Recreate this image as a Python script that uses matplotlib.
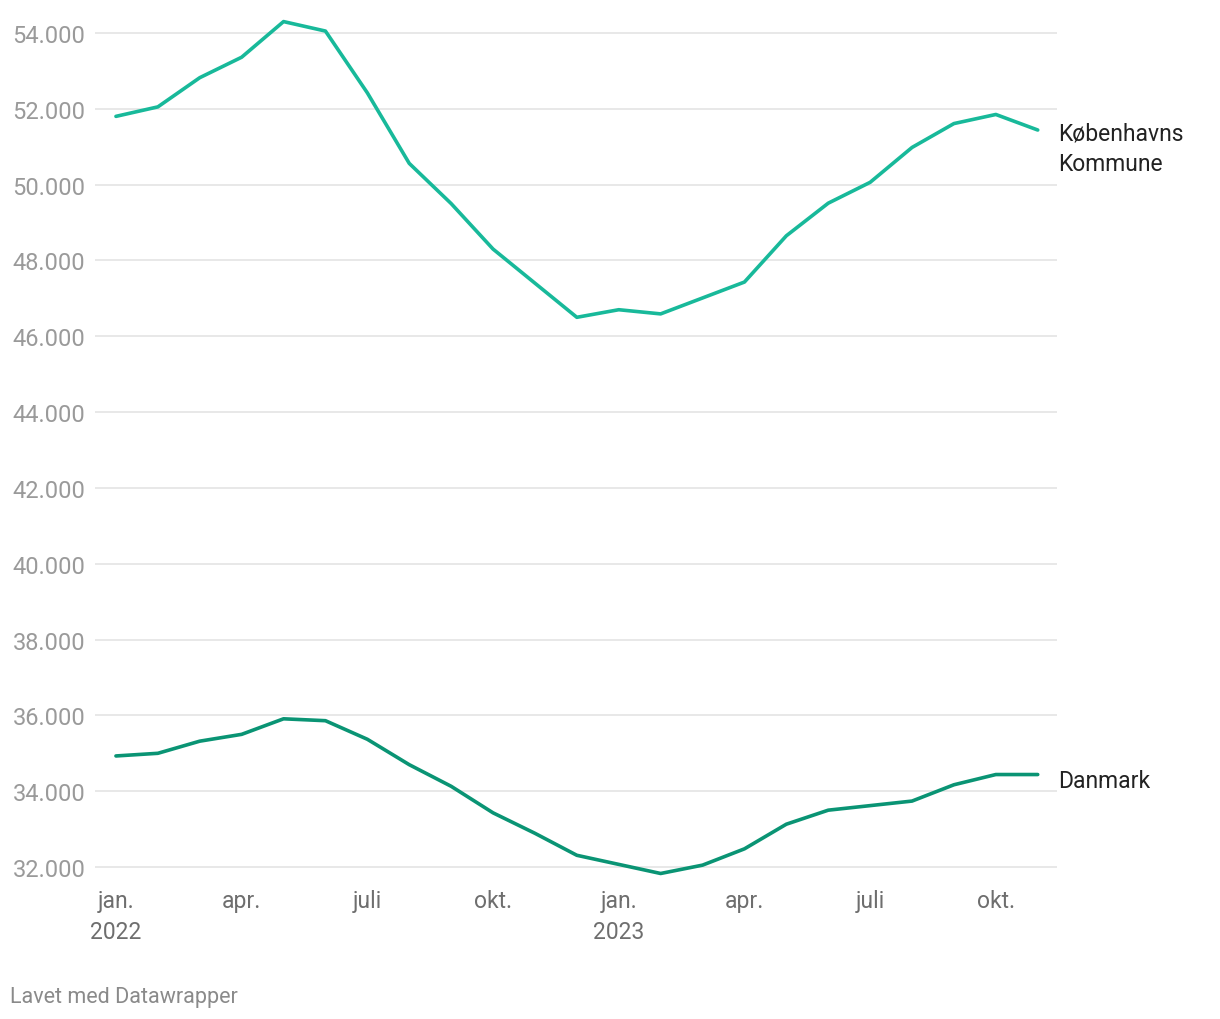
import numpy as np
import matplotlib.pyplot as plt

plt.rcParams['font.family'] = ['Roboto', 'DejaVu Sans']

# monthly values, jan. 2022 - nov. 2023
months = np.arange(23)
kbh = [51800, 52050, 52820, 53360, 54300, 54050, 52420, 50560, 49500, 48300,
       47400, 46500, 46700, 46590, 47010, 47430, 48650, 49510, 50060, 50980,
       51610, 51850, 51440]
danmark = [34930, 35000, 35320, 35500, 35910, 35860, 35370, 34700, 34130, 33430,
           32890, 32310, 32070, 31830, 32050, 32480, 33130, 33500, 33620, 33740,
           34170, 34440, 34440]

tick_pos = [0, 3, 6, 9, 12, 15, 18, 21]
tick_labels = ['jan.\n2022', 'apr.', 'juli', 'okt.', 'jan.\n2023', 'apr.', 'juli', 'okt.']
y_ticks = np.arange(32000, 54001, 2000)

fig = plt.figure(figsize=(12.2, 10.2), dpi=100)
ax = fig.add_axes([95/1220, 133/1020, 962/1220, 872/1020])

# grid lines
for y in y_ticks:
    ax.axhline(y, color='#e1e1e1', lw=1.1, zorder=1)

ax.plot(months, kbh, color='#18b99a', lw=2.6, solid_joinstyle='round',
        solid_capstyle='round', zorder=3)
ax.plot(months, danmark, color='#0a9474', lw=2.6, solid_joinstyle='round',
        solid_capstyle='round', zorder=3)

ax.set_xlim(-0.5, 22.46)
ax.set_ylim(31500, 54500)

ax.set_yticks(y_ticks)
ax.set_yticklabels([f'{v:,}'.replace(',', '.') for v in y_ticks])
ax.set_xticks(tick_pos)
ax.set_xticklabels(tick_labels, linespacing=1.45)
ax.tick_params(axis='y', length=0, pad=7, labelsize=17, labelcolor='#9a9a9a')
ax.tick_params(axis='x', length=0, pad=2, labelsize=16.5, labelcolor='#6e6e6e')

for s in ax.spines.values():
    s.set_visible(False)

# line labels
ax.annotate('Københavns\nKommune', xy=(months[-1], kbh[-1]), xytext=(15, -13),
            textcoords='offset points', fontsize=16.5, color='#222222',
            va='center', ha='left', linespacing=1.4, annotation_clip=False)
ax.annotate('Danmark', xy=(months[-1], danmark[-1]), xytext=(15, -4),
            textcoords='offset points', fontsize=16.5, color='#222222',
            va='center', ha='left', annotation_clip=False)

fig.text(10/1220, 1 - 998/1020, 'Lavet med Datawrapper', fontsize=15.5,
         color='#8a8a8a', ha='left', va='center')

fig.savefig('out.png', dpi=100)
